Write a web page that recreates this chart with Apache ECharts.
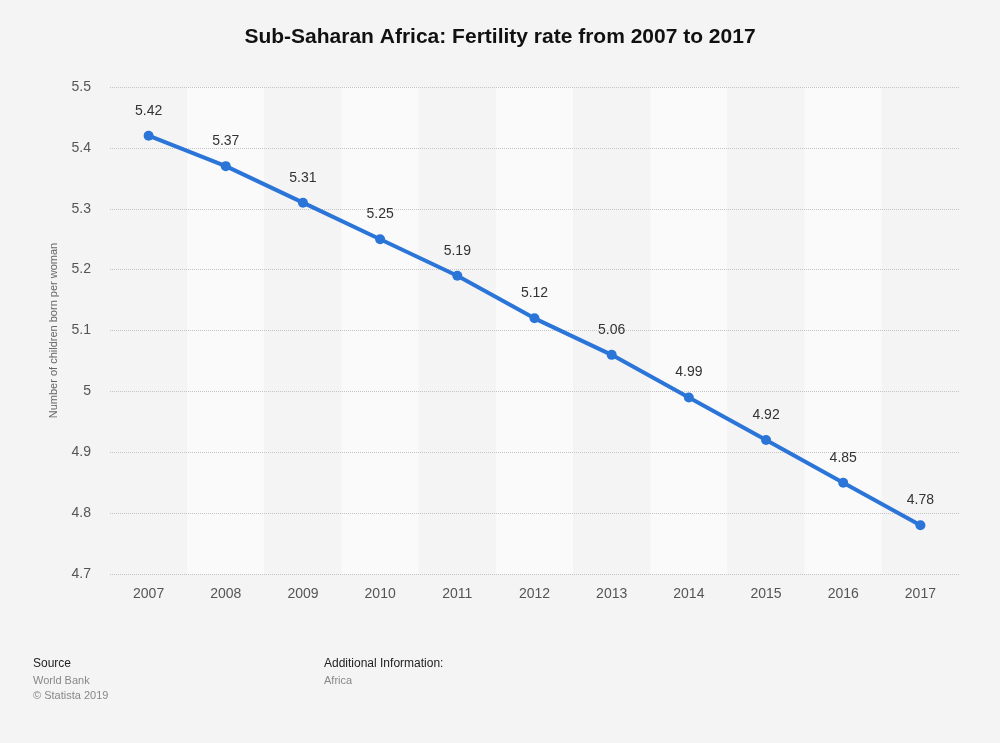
<!DOCTYPE html>
<html>
<head>
<meta charset="utf-8">
<script src="https://cdn.jsdelivr.net/npm/echarts@6/dist/echarts.min.js"></script>
<style>
html,body{margin:0;padding:0;background:#f4f4f4;}
#chart{width:1000px;height:743px;}
</style>
</head>
<body>
<div id="chart"></div>
<script>
const years = ['2007','2008','2009','2010','2011','2012','2013','2014','2015','2016','2017'];
const fertility = [5.42,5.37,5.31,5.25,5.19,5.12,5.06,4.99,4.92,4.85,4.78];
const yTicks = [4.7, 4.8, 4.9, 5, 5.1, 5.2, 5.3, 5.4, 5.5];

const chart = echarts.init(document.getElementById('chart'));
const font = 'Helvetica, Arial, "Liberation Sans", sans-serif';
chart.setOption({
  backgroundColor: '#f4f4f4',
  animation: false,
  title: {
    text: 'Sub-Saharan Africa: Fertility rate from 2007 to 2017',
    left: 'center', top: 22,
    textStyle: {fontFamily: font, fontSize: 21, fontWeight: 'bold', color: '#111'}
  },
  grid: {left: 110, right: 41, top: 87, bottom: 169},
  xAxis: {
    type: 'category', data: years, boundaryGap: true, z: 0,
    axisLine: {show: false}, axisTick: {show: false},
    axisLabel: {fontFamily: font, fontSize: 14, color: '#555', margin: 13},
    splitArea: {show: true, areaStyle: {color: ['#f4f4f4', '#fafafa']}}
  },
  yAxis: {
    type: 'value', min: yTicks[0], max: yTicks[yTicks.length-1], interval: 0.1, z: 1,
    name: 'Number of children born per woman', nameLocation: 'middle', nameGap: 51,
    nameTextStyle: {fontFamily: font, fontSize: 11, color: '#666'},
    axisLine: {show: false}, axisTick: {show: false},
    axisLabel: {fontFamily: font, fontSize: 14, color: '#555', margin: 19,
      formatter: v => String(Math.round(v*10)/10)},
    splitLine: {show: true, lineStyle: {color: '#c4c4c4', type: 'dotted', width: 1}}
  },
  series: [{
    type: 'line', data: fertility, z: 3,
    symbol: 'circle', symbolSize: 10,
    lineStyle: {color: '#2b75d8', width: 4},
    itemStyle: {color: '#2b75d8'},
    label: {show: true, position: 'top', distance: 13, fontFamily: font, fontSize: 14, color: '#333',
      formatter: p => p.value.toFixed(2)}
  }],
  graphic: [
    {type: 'text', left: 33, top: 658, style: {text: 'Source', font: '12px ' + font, fill: '#222'}},
    {type: 'text', left: 33, top: 675, style: {text: 'World Bank', font: '11px ' + font, fill: '#888'}},
    {type: 'text', left: 33, top: 690, style: {text: '© Statista 2019', font: '11px ' + font, fill: '#888'}},
    {type: 'text', left: 324, top: 658, style: {text: 'Additional Information:', font: '12px ' + font, fill: '#222'}},
    {type: 'text', left: 324, top: 675, style: {text: 'Africa', font: '11px ' + font, fill: '#888'}}
  ]
});
</script>
</body>
</html>
